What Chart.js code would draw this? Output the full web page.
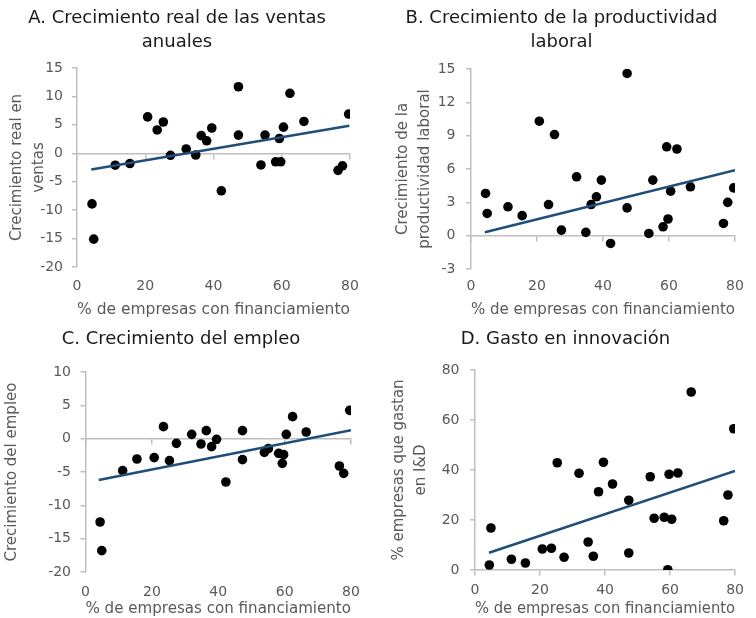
<!DOCTYPE html>
<html>
<head>
<meta charset="utf-8">
<script src="https://cdn.jsdelivr.net/npm/chart.js@4.4.1/dist/chart.umd.min.js"></script>
<style>
  html, body { margin: 0; padding: 0; background: #fff; width: 756px; height: 618px; overflow: hidden; }
  .panel { position: absolute; }
</style>
</head>
<body>
<div class="panel" style="left:0;top:0"><canvas id="chartA" width="378" height="323"></canvas></div>
<div class="panel" style="left:378px;top:0"><canvas id="chartB" width="378" height="323"></canvas></div>
<div class="panel" style="left:0;top:323px"><canvas id="chartC" width="378" height="300"></canvas></div>
<div class="panel" style="left:378px;top:323px"><canvas id="chartD" width="378" height="300"></canvas></div>
<script>
// % de empresas con financiamiento (eje x, mismo para los 4 paneles)
var financiamiento = [4.4, 4.9, 11.2, 15.5, 20.7, 23.5, 25.3, 27.4, 32.0, 34.8, 36.4, 38.0, 39.5, 42.3,
  47.3, 47.3, 53.9, 55.1, 58.2, 59.3, 59.7, 60.5, 62.4, 66.5, 76.5, 77.8, 79.6];

// A. crecimiento real en ventas
var ventas = [-8.9, -15.1, -2.1, -1.8, 6.4, 4.1, 5.5, -0.35, 0.76, -0.3, 3.1, 2.2, 4.45, -6.6,
  11.7, 3.2, -2.05, 3.2, -1.5, 2.6, -1.5, 4.6, 10.55, 5.6, -3.0, -2.2, 6.9];
// B. crecimiento de la productividad laboral
var productividad = [3.8, 2.0, 2.6, 1.8, 10.3, 2.8, 9.1, 0.5, 5.3, 0.3, 2.8, 3.5, 5.0, -0.7,
  14.6, 2.5, 0.2, 5.0, 0.8, 8.0, 1.5, 4.0, 7.8, 4.4, 1.1, 3.0, 4.3];
// C. crecimiento del empleo
var empleo = [-12.5, -16.8, -4.8, -3.05, -2.85, 1.8, -3.3, -0.7, 0.65, -0.8, 1.2, -1.2, -0.1, -6.5,
  1.2, -3.15, -2.05, -1.5, -2.2, -3.7, -2.4, 0.65, 3.3, 1.0, -4.1, -5.2, 4.25];
// D. % empresas que gastan en I&D
var innovacion = [2.0, 16.8, 4.3, 2.8, 8.4, 8.7, 42.9, 5.1, 38.7, 11.2, 5.5, 31.3, 43.1, 34.4,
  27.9, 6.8, 37.3, 20.7, 21.1, 0.1, 38.3, 20.3, 38.8, 71.2, 19.7, 30.0, 56.5];

// lineas de tendencia (extremos)
var tendVentasX = [4.2, 79.8], tendVentasY = [-2.85, 4.85];
var tendProdX = [4.2, 80], tendProdY = [0.3, 5.9];
var tendEmpleoX = [4.0, 80], tendEmpleoY = [-6.2, 1.25];
var tendInnovX = [4.3, 80], tendInnovY = [6.9, 39.6];

// ejes: min, max, paso
var ejeVentas = [-20, 15, 5];
var ejeProd = [-3, 15, 3];
var ejeEmpleo = [-20, 10, 5];
var ejeInnov = [0, 80, 20];
var ejeX = [0, 80, 20];

var FUENTE = "'DejaVu Sans', sans-serif";
var GRIS = '#bfbfbf';
var TEXTO = '#595959';

function puntos(xs, ys) {
  return xs.map(function (x, i) { return { x: x, y: ys[i] }; });
}

function panel(id, p) {
  new Chart(document.getElementById(id), {
    type: 'scatter',
    data: {
      datasets: [
        { data: puntos(p.tx, p.ty), xAxisID: 'x', yAxisID: 'y', showLine: true, borderColor: '#1f4e79',
          borderWidth: 2.5, pointRadius: 0, order: 0 },
        { data: puntos(financiamiento, p.y), xAxisID: 'x', yAxisID: 'y', backgroundColor: '#000',
          borderWidth: 0, pointRadius: 4.8, order: 1 }
      ]
    },
    options: {
      responsive: false,
      animation: false,
      layout: { padding: { left: p.left, right: p.right, top: 0, bottom: 0 } },
      plugins: {
        legend: { display: false },
        tooltip: { enabled: false },
        title: {
          display: true, text: p.titulo, color: '#1a1a1a',
          font: { family: FUENTE, size: 18, weight: 'normal', lineHeight: '24px' },
          padding: { top: p.tt, bottom: p.tb }
        }
      },
      scales: {
        x: {
          type: 'linear', position: { y: 0 }, min: ejeX[0], max: ejeX[1],
          ticks: { display: false, stepSize: ejeX[2] },
          grid: { drawOnChartArea: false, drawTicks: true, tickLength: 5, color: GRIS, lineWidth: 1.5 },
          border: { color: GRIS, width: 1.5 }
        },
        x2: {
          type: 'linear', position: 'bottom', min: ejeX[0], max: ejeX[1],
          ticks: { stepSize: ejeX[2], padding: p.xpad, color: TEXTO, font: { family: FUENTE, size: 14, lineHeight: 1.2 } },
          grid: { display: false, drawTicks: false },
          border: { display: false },
          title: { display: true, text: '% de empresas con financiamiento', color: TEXTO,
            font: { family: FUENTE, size: 16, lineHeight: 1.15 }, padding: { top: 0, bottom: p.xtb } },
          afterFit: function (s) { s.height = p.xh; }
        },
        y: {
          type: 'linear', position: 'left', min: p.eje[0], max: p.eje[1],
          ticks: { stepSize: p.eje[2], padding: p.ypad, color: TEXTO, font: { family: FUENTE, size: 14 } },
          grid: { drawOnChartArea: false, tickLength: 5, color: GRIS, lineWidth: 1.5 },
          border: { color: GRIS, width: 1.5 },
          title: { display: true, text: p.ytitulo, color: TEXTO,
            font: { family: FUENTE, size: 15, lineHeight: '22px' }, padding: { top: p.yt, bottom: 0 } },
          afterFit: function (s) { s.width = p.yw; }
        }
      }
    }
  });
}

panel('chartA', {
  titulo: ['A. Crecimiento real de las ventas', 'anuales'],
  ytitulo: ['Crecimiento real en', 'ventas'],
  y: ventas, tx: tendVentasX, ty: tendVentasY, eje: ejeVentas,
  left: 4, right: 28, tt: 6, tb: 14, yw: 73, yt: 2, ypad: 9, xh: 56, xpad: 10.5, xtb: 4
});
panel('chartB', {
  titulo: ['B. Crecimiento de la productividad', 'laboral'],
  ytitulo: ['Crecimiento de la', 'productividad laboral'],
  y: productividad, tx: tendProdX, ty: tendProdY, eje: ejeProd,
  left: 10, right: 21, tt: 6, tb: 15, yw: 83, yt: 4, ypad: 10.5, xh: 54, xpad: 9, xtb: 4
});
panel('chartC', {
  titulo: 'C. Crecimiento del empleo',
  ytitulo: 'Crecimiento del empleo',
  y: empleo, tx: tendEmpleoX, ty: tendEmpleoY, eje: ejeEmpleo,
  left: 11, right: 27, tt: 4, tb: 21, yw: 74.5, yt: -10, ypad: 9.5, xh: 51, xpad: 12, xtb: 4.5
});
panel('chartD', {
  titulo: 'D. Gasto en innovación',
  ytitulo: ['% empresas que gastan', 'en I&D'],
  y: innovacion, tx: tendInnovX, ty: tendInnovY, eje: ejeInnov,
  left: 17, right: 20, tt: 4, tb: 19, yw: 80, yt: -7.3, ypad: 10.5, xh: 53, xpad: 12, xtb: 4.5
});
</script>
</body>
</html>
